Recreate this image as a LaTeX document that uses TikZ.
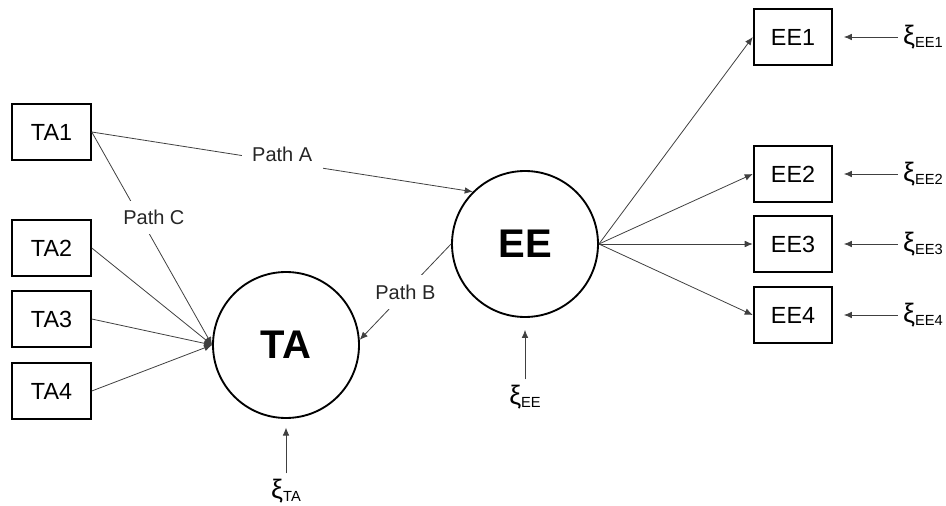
\documentclass[tikz,border=0pt]{standalone}
\usepackage{fontspec}
\setmainfont{Liberation Sans}
\usepackage{tikz}
\usetikzlibrary{arrows.meta}

% error term: xi with a small lowered index
\newcommand{\err}[1]{\fontsize{20}{22}\selectfont ξ\raisebox{-2pt}{\fontsize{11}{12}\selectfont #1}}

\begin{document}
\begin{tikzpicture}[x=0.75pt, y=-0.75pt,
    item/.style={draw, line width=1.4pt, minimum width=59pt, minimum height=42pt,
        inner sep=0pt, font=\fontsize{17.5}{20}\selectfont},
    latent/.style={draw, circle, line width=1.4pt, minimum size=109.5pt,
        inner sep=0pt, font=\fontsize{30}{34}\selectfont\bfseries},
    arr/.style={-{Latex[length=6pt, width=5pt]}, line width=0.6pt, black!75},
    lbl/.style={fill=white, inner xsep=8pt, inner ysep=7pt, text=black!85,
        font=\fontsize{15}{18}\selectfont},
    noise/.style={inner sep=4pt}]
    \useasboundingbox (0,0) rectangle (946,506);

    % indicators of TA
    \node[item] (ta1) at (51.5,132) {TA1};
    \node[item] (ta2) at (51.5,248) {TA2};
    \node[item] (ta3) at (51.5,319) {TA3};
    \node[item] (ta4) at (51.5,391) {TA4};

    % the two latent variables
    \node[latent] (ta) at (286,345) {TA};
    \node[latent] (ee) at (525,244) {EE};

    % indicators of EE
    \node[item] (ee1) at (793,37) {EE1};
    \node[item] (ee2) at (793,174) {EE2};
    \node[item] (ee3) at (793,244) {EE3};
    \node[item] (ee4) at (793,315) {EE4};

    % error terms
    \node[noise] (xita) at (286,491) {\err{TA}};
    \node[noise] (xiee) at (525,397) {\err{EE}};
    \node[noise] (xiee1) at (923,37) {\err{EE1}};
    \node[noise] (xiee2) at (923,174) {\err{EE2}};
    \node[noise] (xiee3) at (923,244) {\err{EE3}};
    \node[noise] (xiee4) at (923,315) {\err{EE4}};

    % paths into TA
    \draw[arr] (ta1.east) -- node[lbl, pos=0.4, xshift=10.5pt] {Path C} (ta.west);
    \draw[arr] (ta2.east) -- (ta.west);
    \draw[arr] (ta3.east) -- (ta.west);
    \draw[arr] (ta4.east) -- (ta.west);

    % structural paths
    \draw[arr] (ta1.east) -- node[lbl, pos=0.5, yshift=5.5pt] {Path A} (ee.135);
    \draw[arr] (ee.west) -- node[lbl, pos=0.5] {Path B} (ta.4);

    % loadings of EE
    \foreach \i in {1,...,4}
        \draw[arr] (ee.east) -- (ee\i.west);

    % errors
    \draw[arr, shorten >=6.5pt] (xita.north) -- (ta.south);
    \draw[arr, shorten >=9pt] (xiee.north) -- (ee.south);
    \foreach \i in {1,...,4}
        \draw[arr, shorten >=8pt] (xiee\i.west) -- (ee\i.east);
\end{tikzpicture}
\end{document}
